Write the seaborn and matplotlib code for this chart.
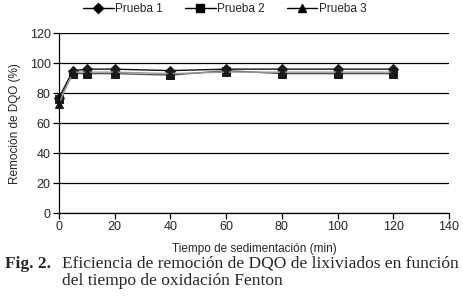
import pandas as pd
import matplotlib.pyplot as plt
import seaborn as sns

# values
tiempo = [0, 5, 10, 20, 40, 60, 80, 100, 120]
prueba_1 = [77, 95, 96, 96, 95, 96, 96, 96, 96]
prueba_2 = [76, 93, 93, 93, 92, 95, 93, 93, 93]
prueba_3 = [73, 94, 94, 94, 93, 94, 94, 94, 94]
series_names = ['Prueba 1', 'Prueba 2', 'Prueba 3']

df = pd.DataFrame({
    'tiempo': tiempo * 3,
    'remocion': prueba_1 + prueba_2 + prueba_3,
    'serie': [s for s in series_names for _ in tiempo],
})

sns.set_style('white')
plt.rcParams['font.family'] = ['Liberation Sans', 'DejaVu Sans']

fig = plt.figure(figsize=(4.63, 3.04), dpi=100)
ax = fig.add_axes([0.1274, 0.299, 0.8424, 0.592])

styles = {
    'Prueba 1': dict(marker='D', color='#111111', ms=5.5),
    'Prueba 2': dict(marker='s', color='#555555', ms=5.5),
    'Prueba 3': dict(marker='^', color='#999999', ms=6),
}
for name in series_names:
    st = styles[name]
    sns.lineplot(data=df[df['serie'] == name], x='tiempo', y='remocion', ax=ax,
                 color=st['color'], marker=st['marker'], markersize=st['ms'],
                 markerfacecolor='#1a1a1a', markeredgecolor='#1a1a1a',
                 linewidth=1.0, label=name, legend=False, clip_on=False)

ax.set_xlim(0, 140)
ax.set_ylim(0, 120)
ax.set_xticks(range(0, 141, 20))
ax.set_yticks(range(0, 121, 20))
ax.yaxis.grid(True, color='black', linewidth=0.9)
ax.set_axisbelow(True)
for side in ['top', 'right']:
    ax.spines[side].set_visible(False)
for side in ['left', 'bottom']:
    ax.spines[side].set_color('black')
    ax.spines[side].set_linewidth(0.9)
ax.tick_params(axis='both', direction='out', length=4, width=0.9, color='black',
               labelsize=9, left=True, bottom=True, pad=2)
ax.set_xlabel('Tiempo de sedimentación (min)', fontsize=8.5, labelpad=7)
ax.set_ylabel('Remoción de DQO (%)', fontsize=8.5, labelpad=6)

handles = [plt.Line2D([], [], color='black', marker=styles[n]['marker'],
                      markersize=5.5, linewidth=1.0) for n in series_names]
fig.legend(handles, series_names, loc='upper center', bbox_to_anchor=(0.485, 1.025),
           ncol=3, frameon=False, fontsize=8.5, handlelength=2.6,
           handletextpad=0.1, columnspacing=1.9)

fig.text(0.01, 0.12, 'Fig. 2.', fontsize=12.5, fontweight='bold',
         family='Liberation Serif')
fig.text(0.134, 0.12, 'Eficiencia de remoción de DQO de lixiviados en función',
         fontsize=12.5, family='Liberation Serif')
fig.text(0.134, 0.063, 'del tiempo de oxidación Fenton',
         fontsize=12.5, family='Liberation Serif')

fig.savefig('out.png', dpi=100)
